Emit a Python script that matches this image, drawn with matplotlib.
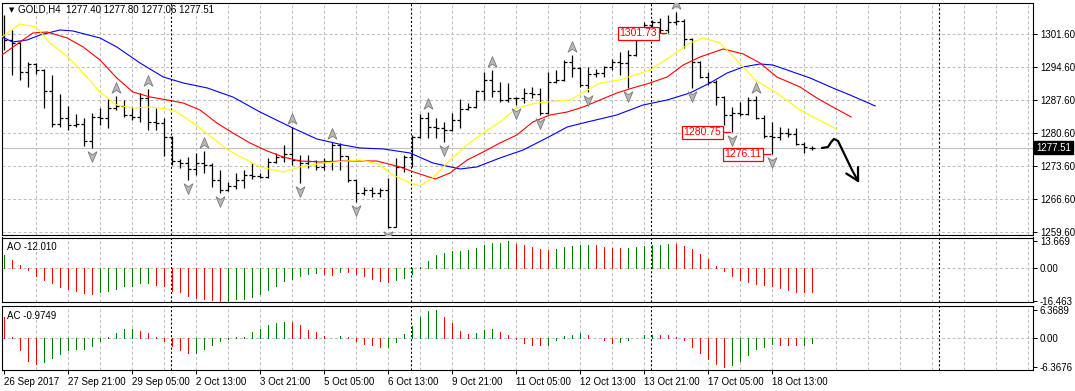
import numpy as np
import matplotlib
matplotlib.use("Agg")
import matplotlib.pyplot as plt
from matplotlib.path import Path
from matplotlib.patches import FancyArrowPatch
from matplotlib.transforms import offset_copy, blended_transform_factory

plt.rcParams['font.family'] = ['Liberation Sans', 'DejaVu Sans']
plt.rcParams['font.size'] = 7
plt.rcParams['lines.scale_dashes'] = False

# ---- GOLD H4 bars (index 0 = 26 Sep 2017 13:00) ----
opens = [1301.18, 1300.33, 1299.69, 1293.54, 1295.23, 1293.96, 1289.51, 1282.51, 1283.78, 1282.30,
         1282.51, 1278.90, 1283.99, 1283.78, 1285.90, 1286.33, 1284.42, 1283.99, 1288.02, 1282.93,
         1282.72, 1279.75, 1274.66, 1274.24, 1272.96, 1274.24, 1273.81, 1270.63, 1268.51, 1269.35,
         1270.63, 1271.69, 1271.48, 1271.26, 1274.45, 1275.51, 1276.14, 1274.87, 1274.24, 1274.66,
         1273.39, 1274.66, 1278.05, 1275.72, 1270.63, 1267.87, 1268.51, 1267.87, 1268.51, 1260.66,
         1273.39, 1275.51, 1279.75, 1283.78, 1281.87, 1281.66, 1281.24, 1283.37, 1285.69, 1286.11,
         1289.51, 1291.84, 1289.51, 1287.60, 1288.02, 1288.02, 1289.08, 1288.87, 1284.84, 1291.42,
         1291.84, 1295.66, 1294.39, 1290.78, 1293.11, 1293.33, 1294.60, 1295.66, 1295.45, 1297.14,
         1300.96, 1303.51, 1304.14, 1302.45, 1304.14, 1304.36, 1300.54, 1295.66, 1292.48, 1291.42,
         1288.24, 1284.42, 1284.84, 1284.63, 1287.60, 1283.78, 1279.96, 1279.75, 1280.60, 1280.39,
         1278.26, 1277.40]
highs = [1305.63, 1302.45, 1299.90, 1295.66, 1295.45, 1294.17, 1292.90, 1288.87, 1286.33, 1284.63,
         1283.78, 1284.84, 1285.90, 1287.81, 1288.45, 1287.60, 1286.11, 1289.08, 1289.93, 1285.90,
         1283.78, 1279.96, 1275.08, 1275.51, 1276.36, 1276.78, 1274.24, 1272.75, 1270.20, 1272.11,
         1272.75, 1274.24, 1272.11, 1275.30, 1276.36, 1278.05, 1281.87, 1275.93, 1275.93, 1274.87,
         1275.30, 1278.69, 1278.48, 1275.72, 1270.84, 1269.14, 1269.14, 1268.93, 1271.05, 1275.30,
         1275.93, 1280.17, 1284.63, 1285.05, 1283.78, 1282.93, 1284.84, 1287.81, 1286.96, 1289.72,
         1293.54, 1293.96, 1291.42, 1291.21, 1288.24, 1290.14, 1290.36, 1290.14, 1293.54, 1293.96,
         1296.08, 1297.14, 1294.60, 1294.60, 1294.17, 1294.81, 1296.30, 1297.78, 1298.21, 1301.81,
         1304.14, 1304.57, 1304.99, 1305.63, 1306.26, 1304.78, 1300.75, 1295.87, 1293.54, 1291.84,
         1288.45, 1286.11, 1287.17, 1288.24, 1288.45, 1284.42, 1282.93, 1281.87, 1281.66, 1281.66,
         1278.69, 1277.80]
lows = [1298.21, 1292.90, 1291.84, 1290.36, 1293.11, 1285.90, 1281.87, 1281.87, 1281.24, 1281.87,
        1277.84, 1277.41, 1282.30, 1281.66, 1285.48, 1283.99, 1283.37, 1282.93, 1281.24, 1281.24,
        1275.72, 1273.81, 1273.17, 1270.63, 1271.69, 1272.11, 1269.14, 1267.87, 1268.30, 1268.72,
        1268.93, 1270.84, 1271.05, 1271.05, 1274.24, 1274.45, 1273.81, 1269.99, 1273.17, 1272.75,
        1272.75, 1272.75, 1272.75, 1270.20, 1265.96, 1267.45, 1267.02, 1267.02, 1260.45, 1260.62,
        1272.33, 1273.39, 1279.54, 1279.54, 1279.54, 1278.69, 1281.03, 1281.66, 1285.48, 1285.90,
        1287.60, 1288.24, 1287.17, 1287.17, 1286.54, 1286.96, 1288.02, 1284.42, 1284.63, 1291.21,
        1291.63, 1292.48, 1290.36, 1289.30, 1292.48, 1292.48, 1293.96, 1292.90, 1290.14, 1296.93,
        1300.75, 1301.60, 1301.81, 1301.73, 1303.51, 1298.63, 1290.14, 1292.27, 1290.78, 1286.54,
        1282.30, 1280.75, 1284.21, 1284.42, 1283.57, 1279.54, 1276.11, 1279.11, 1279.75, 1278.05,
        1276.36, 1277.06]
closes = [1300.33, 1299.69, 1293.54, 1295.23, 1293.96, 1289.51, 1282.51, 1283.78, 1282.30, 1282.51,
          1278.90, 1283.99, 1283.78, 1285.90, 1286.33, 1284.42, 1283.99, 1288.02, 1282.93, 1282.72,
          1279.75, 1274.66, 1274.24, 1272.96, 1274.24, 1273.81, 1270.63, 1268.51, 1269.35, 1270.63,
          1271.69, 1271.48, 1271.26, 1274.45, 1275.51, 1276.14, 1274.87, 1274.24, 1274.66, 1273.39,
          1274.66, 1278.05, 1275.72, 1270.63, 1267.87, 1268.51, 1267.87, 1268.51, 1260.66, 1273.39,
          1275.51, 1279.75, 1283.78, 1281.87, 1281.66, 1281.24, 1283.37, 1285.69, 1286.11, 1289.51,
          1291.84, 1289.51, 1287.60, 1288.02, 1288.02, 1289.08, 1288.87, 1284.84, 1291.42, 1291.84,
          1295.66, 1294.39, 1290.78, 1293.11, 1293.33, 1294.60, 1295.66, 1295.45, 1297.14, 1300.96,
          1303.51, 1304.14, 1302.45, 1304.14, 1304.36, 1300.54, 1295.66, 1292.48, 1291.42, 1288.24,
          1284.42, 1284.84, 1284.63, 1287.60, 1283.78, 1279.96, 1279.75, 1280.60, 1280.39, 1278.26,
          1277.63, 1277.51]

# Alligator lines (bar position, price)
lips_bar = [-0.25, 2, 4, 5.75, 8, 9.9, 12, 14.1, 16.1, 18.25, 20.4, 21.6, 24, 28, 32, 34.9, 37, 40,
            44.5, 46.75, 48.6, 50.75, 52, 53.6, 55.75, 57.9, 59.9, 62, 64.1, 66.6, 70.75, 74.5, 77,
            80.75, 83.25, 85.75, 87.4, 89.5, 91.6, 93.9, 96.6, 99.5, 104]
lips_price = [1300.96, 1303.72, 1303.08, 1299.69, 1296.72, 1293.33, 1289.30, 1286.54, 1285.90, 1286.11,
              1285.69, 1285.05, 1282.30, 1276.99, 1273.39, 1272.33, 1273.39, 1274.24, 1274.87, 1274.02,
              1271.69, 1270.00, 1269.40, 1271.05, 1274.87, 1278.05, 1280.60, 1282.93, 1285.90, 1286.96,
              1287.60, 1291.21, 1291.84, 1293.96, 1296.72, 1299.69, 1300.75, 1299.69, 1296.08, 1291.84,
              1289.08, 1285.48, 1281.45]
teeth_bar = [-0.25, 2, 3.6, 5.4, 7.9, 9.9, 12, 14.1, 16.1, 18.25, 20.4, 22.4, 24.5, 26.6, 28.6, 30.75,
             32.9, 34.9, 37, 39.5, 42.4, 46.6, 49.5, 51.6, 53.9, 55.75, 57.9, 59.9, 62, 64.1, 66.1,
             68.25, 70.4, 72.4, 74.5, 76.6, 78.6, 80.75, 82.9, 84.9, 87, 89.9, 92.4, 94.5, 96.6, 99.5,
             101.6, 103.6, 105.9]
teeth_price = [1297.15, 1299.90, 1301.81, 1302.02, 1300.75, 1298.84, 1296.08, 1292.27, 1289.30, 1288.24,
               1287.60, 1286.96, 1285.48, 1282.72, 1280.60, 1278.48, 1276.78, 1275.51, 1274.66, 1274.45,
               1274.66, 1274.66, 1273.39, 1272.11, 1270.84, 1272.11, 1274.87, 1276.57, 1278.48, 1280.17,
               1282.93, 1284.42, 1285.05, 1286.11, 1287.60, 1289.08, 1290.15, 1291.21, 1292.48, 1295.02,
               1296.72, 1298.42, 1297.36, 1295.45, 1292.48, 1290.36, 1288.02, 1286.11, 1283.99]
jaw_bar = [-0.25, 1.1, 2.9, 4.5, 7, 8.6, 12, 14.1, 17, 19.9, 22.4, 25.4, 28.6, 32, 36.1, 39.1, 42.4,
           44.5, 47.4, 50.75, 53.6, 57, 59.1, 62, 64.9, 68.25, 70.4, 72.4, 76.6, 79.9, 82.9, 85.75,
           88.25, 90.4, 92.4, 94.5, 96.1, 98.6, 100.75, 103.6, 105.75, 108.9]
jaw_price = [1300.96, 1299.90, 1300.33, 1301.39, 1302.45, 1302.24, 1300.75, 1298.84, 1295.45, 1292.48,
             1291.21, 1290.15, 1288.24, 1285.05, 1281.66, 1279.33, 1278.05, 1277.42, 1277.21, 1276.36,
             1274.24, 1272.96, 1273.39, 1275.30, 1276.99, 1279.90, 1281.87, 1282.72, 1284.42, 1286.54,
             1287.60, 1289.08, 1291.21, 1293.33, 1294.60, 1295.24, 1295.02, 1293.54, 1292.27, 1290.15,
             1288.66, 1286.33]

# Fractals (bar indices)
up_fractals = [14, 18, 25, 36, 41, 53, 61, 71, 84, 94]
down_fractals = [11, 23, 27, 37, 44, 48, 55, 64, 67, 73, 78, 86, 91, 96]

# Awesome / Accelerator oscillators
ao = [6.6, 4.3, 1.7, -0.9, -3.8, -6.1, -7.5, -9.2, -10.4, -11.6,
      -12.6, -12.7, -12.1, -11.3, -10.4, -9.0, -8.7, -7.5, -7.4, -8.3,
      -8.8, -11.3, -12.1, -13.9, -15.1, -15.6, -15.9, -16.463, -16.3, -15.6,
      -15.2, -14.4, -13.0, -10.9, -8.7, -6.4, -5.2, -3.8, -2.9, -2.6,
      -3.1, -3.2, -1.7, -2.1, -3.1, -4.0, -5.2, -6.4, -6.7, -6.0,
      -4.7, -3.0, 0.7, 3.7, 6.7, 7.7, 8.7, 8.8, 9.2, 10.2,
      11.7, 12.7, 12.8, 13.669, 12.4, 11.7, 10.7, 9.7, 9.4, 9.7,
      10.7, 11.2, 11.7, 11.8, 11.6, 10.7, 10.2, 10.1, 10.25, 10.7,
      11.2, 11.6, 11.9, 12.3, 12.1, 11.2, 9.7, 7.2, 4.7, 1.2,
      -1.2, -3.9, -5.9, -6.9, -7.7, -8.4, -9.0, -9.7, -10.7, -11.7,
      -11.9, -12.01]
ac = [4.7, 0.3, -2.7, -5.2, -5.8, -5.3, -4.4, -3.5, -2.7, -2.5,
      -2.3, -1.7, -0.6, 0.3, 1.2, 2.1, 2.2, 1.7, 1.2, 0.3,
      -0.7, -1.7, -2.7, -3.4, -3.3, -2.5, -1.6, -0.7, -0.2, 0.2,
      0.4, 1.4, 2.1, 3.1, 3.5, 3.7, 3.65, 3.1, 1.9, 1.5,
      0.5, 0.1, 0.5, 0.2, -0.6, -1.2, -1.6, -2.0, -1.9, -0.8,
      1.0, 2.8, 4.8, 6.1, 6.3689, 4.8, 3.4, 1.6, 1.0, 1.2,
      1.9, 2.1, 1.4, 0.75, -0.2, -1.0, -1.4, -1.6, -1.4, -0.3,
      0.5, 0.75, 1.2, 0.7, 0.15, -0.3, -1.0, -0.75, -0.3, 0.15,
      0.75, 0.8, 0.7, 0.65, 0.3, -0.3, -1.9, -3.2, -4.6, -5.7,
      -6.3676, -5.9, -5.0, -3.7, -2.5, -1.9, -1.35, -1.4, -1.45, -1.6,
      -1.55, -0.9749]

price_ticks = [1259.60, 1266.60, 1273.60, 1280.60, 1287.60, 1294.60, 1301.60]
ao_ticks = [13.669, 0.0, -16.463]
ao_tick_labels = ['13.669', '0.00', '-16.463']
ac_ticks = [6.3689, 0.0, -6.3676]
ac_tick_labels = ['6.3689', '0.00', '-6.3676']
date_bars = [0, 8, 16, 24, 32, 40, 48, 56, 64, 72, 80, 88, 96]
date_labels = ['26 Sep 2017', '27 Sep 21:00', '29 Sep 05:00', '2 Oct 13:00', '3 Oct 21:00',
               '5 Oct 05:00', '6 Oct 13:00', '9 Oct 21:00', '11 Oct 05:00', '12 Oct 13:00',
               '13 Oct 21:00', '17 Oct 05:00', '18 Oct 13:00']
week_starts = [21, 51, 81, 117]
level_bars = [83, 91, 96]
level_prices = [1301.73, 1280.75, 1276.11]
bid = 1277.51
# hand drawn forecast arrow
arrow_bars = [102.25, 103.0, 103.4, 103.75, 104.25, 105.1, 106.0, 106.9]
arrow_prices = [1277.41, 1277.63, 1278.69, 1279.33, 1278.90, 1275.93, 1272.75, 1269.99]

# ---- layout in pixels ----
W, H = 1075, 391
fig = plt.figure(figsize=(W / 100, H / 100), dpi=100)
fig.patch.set_facecolor('white')


def box(x0, y0, x1, y1):
    return [x0 / W, 1 - y1 / H, (x1 - x0) / W, (y1 - y0) / H]


ax = fig.add_axes(box(2, 3, 1033, 235))
ax_ao = fig.add_axes(box(2, 237.5, 1033, 302))
ax_ac = fig.add_axes(box(2, 305.5, 1033, 370))

idx = np.arange(len(closes))
grid_col = '#c0c0c0'
grid_ls = (0, (2.2, 1.6))

for a in (ax, ax_ao, ax_ac):
    a.set_xlim(-0.25, 128.625)
    for s in a.spines.values():
        s.set_color('black')
        s.set_linewidth(0.8)
    for b in range(4, 129, 4):
        a.axvline(b, color=grid_col, ls=grid_ls, lw=0.75, zorder=0)
    for w in week_starts:
        a.axvline(w - 0.1, color='black', ls=(0, (1.5, 1.5)), lw=0.8, zorder=1)
    a.yaxis.tick_right()
    a.tick_params(axis='y', direction='out', length=3, width=0.7, pad=2, labelsize=7)
    a.set_xticks([])

# ---- main price panel ----
ax.set_ylim(1258.96, 1308.17)
ax.set_yticks(price_ticks)
ax.set_yticklabels(['%.2f' % p for p in price_ticks])
for p in price_ticks:
    ax.axhline(p, color=grid_col, ls=grid_ls, lw=0.75, zorder=0)
ax.axhline(bid, color='#c0c0c0', lw=0.8, zorder=1)

ax.vlines(idx, lows, highs, color='black', lw=0.9, zorder=3)
ax.hlines(opens, idx - 0.375, idx, color='black', lw=0.9, zorder=3)
ax.hlines(closes, idx, idx + 0.375, color='black', lw=0.9, zorder=3)

ax.plot(jaw_bar, jaw_price, color='#0000ff', lw=0.8, zorder=4)
ax.plot(teeth_bar, teeth_price, color='#ff0000', lw=0.8, zorder=4)
ax.plot(lips_bar, lips_price, color='#ffff00', lw=0.8, zorder=4)

up_marker = Path([(0, 1), (0.75, -0.8), (0, -0.3), (-0.75, -0.8), (0, 1)],
                 [Path.MOVETO, Path.LINETO, Path.LINETO, Path.LINETO, Path.CLOSEPOLY])
down_marker = Path([(0, -1), (0.75, 0.8), (0, 0.3), (-0.75, 0.8), (0, -1)],
                   [Path.MOVETO, Path.LINETO, Path.LINETO, Path.LINETO, Path.CLOSEPOLY])
up_tr = offset_copy(ax.transData, fig=fig, y=8, units='dots')
dn_tr = offset_copy(ax.transData, fig=fig, y=-8, units='dots')
ax.plot(up_fractals, [highs[i] for i in up_fractals], ls='none', marker=up_marker, ms=8.5,
        mfc='#b8b8b8', mec='#7a7a7a', mew=0.6, transform=up_tr, zorder=5)
ax.plot(down_fractals, [lows[i] for i in down_fractals], ls='none', marker=down_marker, ms=8.5,
        mfc='#b8b8b8', mec='#7a7a7a', mew=0.6, transform=dn_tr, zorder=5)

for b, p in zip(level_bars, level_prices):
    ax.plot([b - 1.35, b - 0.3], [p, p], color='red', lw=0.9, zorder=6)
    ax.text(b - 1.35, p, '%.2f' % p, ha='right', va='center', color='red', fontsize=7.5,
            zorder=7, bbox=dict(boxstyle='square,pad=0.15', fc='white', ec='red', lw=0.9))

arrow = FancyArrowPatch(path=Path(list(zip(arrow_bars, arrow_prices))),
                        arrowstyle='->,head_length=1.1,head_width=0.6', mutation_scale=8,
                        color='black', lw=1.6, zorder=6)
ax.add_patch(arrow)

btr = blended_transform_factory(ax.transAxes, ax.transData)
ax.text(1.003, bid, '%.2f' % bid, transform=btr, ha='left', va='center', color='white',
        fontsize=7, zorder=8, clip_on=False,
        bbox=dict(boxstyle='square,pad=0.2', fc='black', ec='black'))

# ---- AO panel ----
ao_cols = ['#008000'] + ['#008000' if ao[i] > ao[i - 1] else '#ff0000' for i in range(1, len(ao))]
ax_ao.set_ylim(-16.93, 15.48)
ax_ao.axhline(0, color=grid_col, ls=grid_ls, lw=0.75, zorder=0)
ax_ao.vlines(idx, 0, ao, colors=ao_cols, lw=0.5, antialiased=False, zorder=3)
ax_ao.set_yticks(ao_ticks)
ax_ao.set_yticklabels(ao_tick_labels)

# ---- AC panel ----
ac_cols = ['#ff0000'] + ['#008000' if ac[i] > ac[i - 1] else '#ff0000' for i in range(1, len(ac))]
ax_ac.set_ylim(-7.12, 7.37)
ax_ac.axhline(0, color=grid_col, ls=grid_ls, lw=0.75, zorder=0)
ax_ac.vlines(idx, 0, ac, colors=ac_cols, lw=0.5, antialiased=False, zorder=3)
ax_ac.set_yticks(ac_ticks)
ax_ac.set_yticklabels(ac_tick_labels)
ax_ac.set_xticks(date_bars)
ax_ac.set_xticklabels(date_labels, ha='left')
ax_ac.tick_params(axis='x', direction='out', length=3, width=0.7, pad=2, labelsize=7)

# ---- header texts ----
fig.text(9 / W, 1 - 10 / H, '\u25bc', fontsize=5, va='center', ha='left', family='DejaVu Sans')
fig.text(18 / W, 1 - 10 / H, 'GOLD,H4  1277.40 1277.80 1277.06 1277.51', fontsize=7,
         va='center', ha='left')
fig.text(7 / W, 1 - 247 / H, 'AO -12.010', fontsize=7, va='center', ha='left')
fig.text(7 / W, 1 - 316 / H, 'AC -0.9749', fontsize=7, va='center', ha='left')

fig.savefig('out.png', dpi=100, facecolor='white')
